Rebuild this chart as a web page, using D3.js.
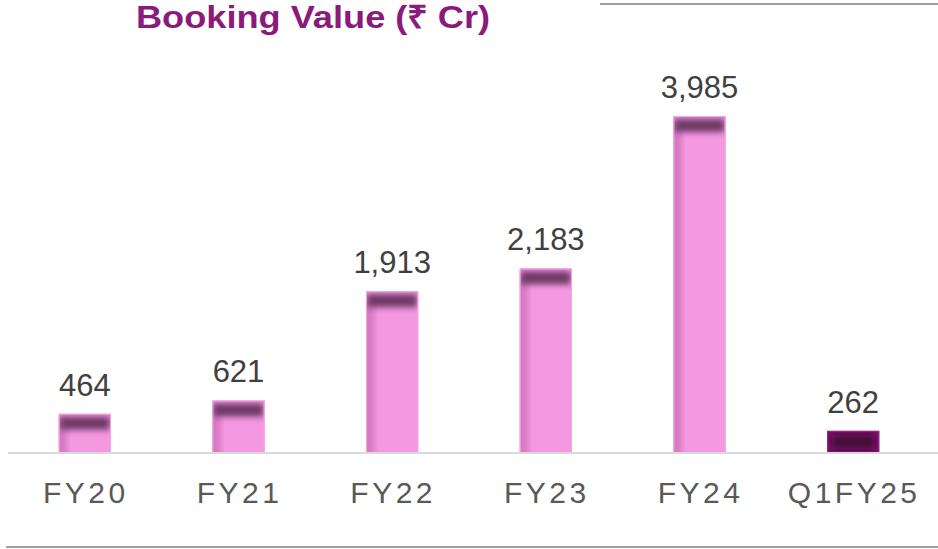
<!DOCTYPE html>
<html>
<head>
<meta charset="utf-8">
<script src="https://cdn.jsdelivr.net/npm/d3@7"></script>
<style>
  body { margin: 0; background: #fff; }
  svg { display: block; font-family: "Liberation Sans", Arial, sans-serif; }
</style>
</head>
<body>
<div id="chart"></div>
<script>
var width = 938;
var height = 549;

// data
var categories = ["FY20", "FY21", "FY22", "FY23", "FY24", "Q1FY25"];
var values = [464, 621, 1913, 2183, 3985, 262];
var valueLabels = ["464", "621", "1,913", "2,183", "3,985", "262"];
var highlight = [false, false, false, false, false, true];

var svg = d3.select("#chart")
    .append("svg")
    .attr("width", width)
    .attr("height", height);

var defs = svg.append("defs");
defs.append("filter")
    .attr("id", "soft")
    .attr("x", "-30%").attr("y", "-60%")
    .attr("width", "160%").attr("height", "220%")
    .append("feGaussianBlur")
    .attr("stdDeviation", 3);

// scales
var x = d3.scaleBand().domain(categories).range([8, 930]).paddingInner(0.66).paddingOuter(0.33);
var y = d3.scaleLinear().domain([0, 3985]).range([453, 116]);

// decorative rules
svg.append("line").attr("x1", 600).attr("x2", 938).attr("y1", 4).attr("y2", 4)
    .attr("stroke", "#7f7f7f").attr("stroke-width", 1.5);
svg.append("line").attr("x1", 6).attr("x2", 938).attr("y1", 547).attr("y2", 547)
    .attr("stroke", "#7f7f7f").attr("stroke-width", 1.5);

// title
svg.append("text")
    .attr("x", 136).attr("y", 28)
    .attr("fill", "#8a1a7c")
    .attr("textLength", 354)
    .attr("lengthAdjust", "spacingAndGlyphs")
    .style("font-size", "32px")
    .style("font-weight", "bold")
    .text("Booking Value (\u20B9 Cr)");

var bars = svg.selectAll("g.bar")
    .data(categories)
    .enter()
    .append("g")
    .attr("class", "bar");

bars.each(function(c, i) {
    var g = d3.select(this);
    var bx = x(c), bw = x.bandwidth();
    var top = y(values[i]), h = y(0) - top;
    var clipId = "clip" + i;
    defs.append("clipPath").attr("id", clipId)
        .append("rect").attr("x", bx).attr("y", top).attr("width", bw).attr("height", h);

    g.append("rect")
        .attr("x", bx).attr("y", top).attr("width", bw).attr("height", h)
        .attr("fill", highlight[i] ? "#7c0f6c" : "#f598e2");

    var inner = g.append("g").attr("clip-path", "url(#" + clipId + ")");
    if (highlight[i]) {
        inner.append("rect")
            .attr("x", bx + 5).attr("y", top + 4).attr("width", bw - 10).attr("height", h - 8)
            .attr("fill", "#450838").attr("filter", "url(#soft)");
    } else {
        inner.append("rect")
            .attr("x", bx - 2).attr("y", top + 5).attr("width", 10).attr("height", h)
            .attr("fill", "#b85aa3").attr("opacity", 0.55).attr("filter", "url(#soft)");
        inner.append("rect")
            .attr("x", bx + 1).attr("y", top + 3).attr("width", bw - 2).attr("height", 13)
            .attr("fill", "#6c3763").attr("filter", "url(#soft)");
    }
    g.append("rect")
        .attr("x", bx + 0.5).attr("y", top + 0.5).attr("width", bw - 1).attr("height", h - 1)
        .attr("fill", "none")
        .attr("stroke", highlight[i] ? "#9a2a8a" : "#f0a6e2")
        .attr("stroke-width", 1);

    g.append("text")
        .attr("x", bx + bw / 2).attr("y", top - 18)
        .attr("text-anchor", "middle")
        .attr("fill", "#404040")
        .style("font-size", "31px")
        .text(valueLabels[i]);
});

// baseline
svg.append("line").attr("x1", 8).attr("x2", 938).attr("y1", 453).attr("y2", 453)
    .attr("stroke", "#d9d9d9").attr("stroke-width", 2);

// category labels
var xAxis = d3.axisBottom(x).tickSize(0).tickPadding(0);
var ax = svg.append("g").attr("transform", "translate(1,480)").call(xAxis);
ax.select(".domain").remove();
ax.selectAll("text")
    .attr("fill", "#595959")
    .attr("dy", "0.75em")
    .style("font-size", "30px")
    .style("letter-spacing", "3.5px")
    .style("font-family", "Liberation Sans, Arial, sans-serif");
</script>
</body>
</html>
